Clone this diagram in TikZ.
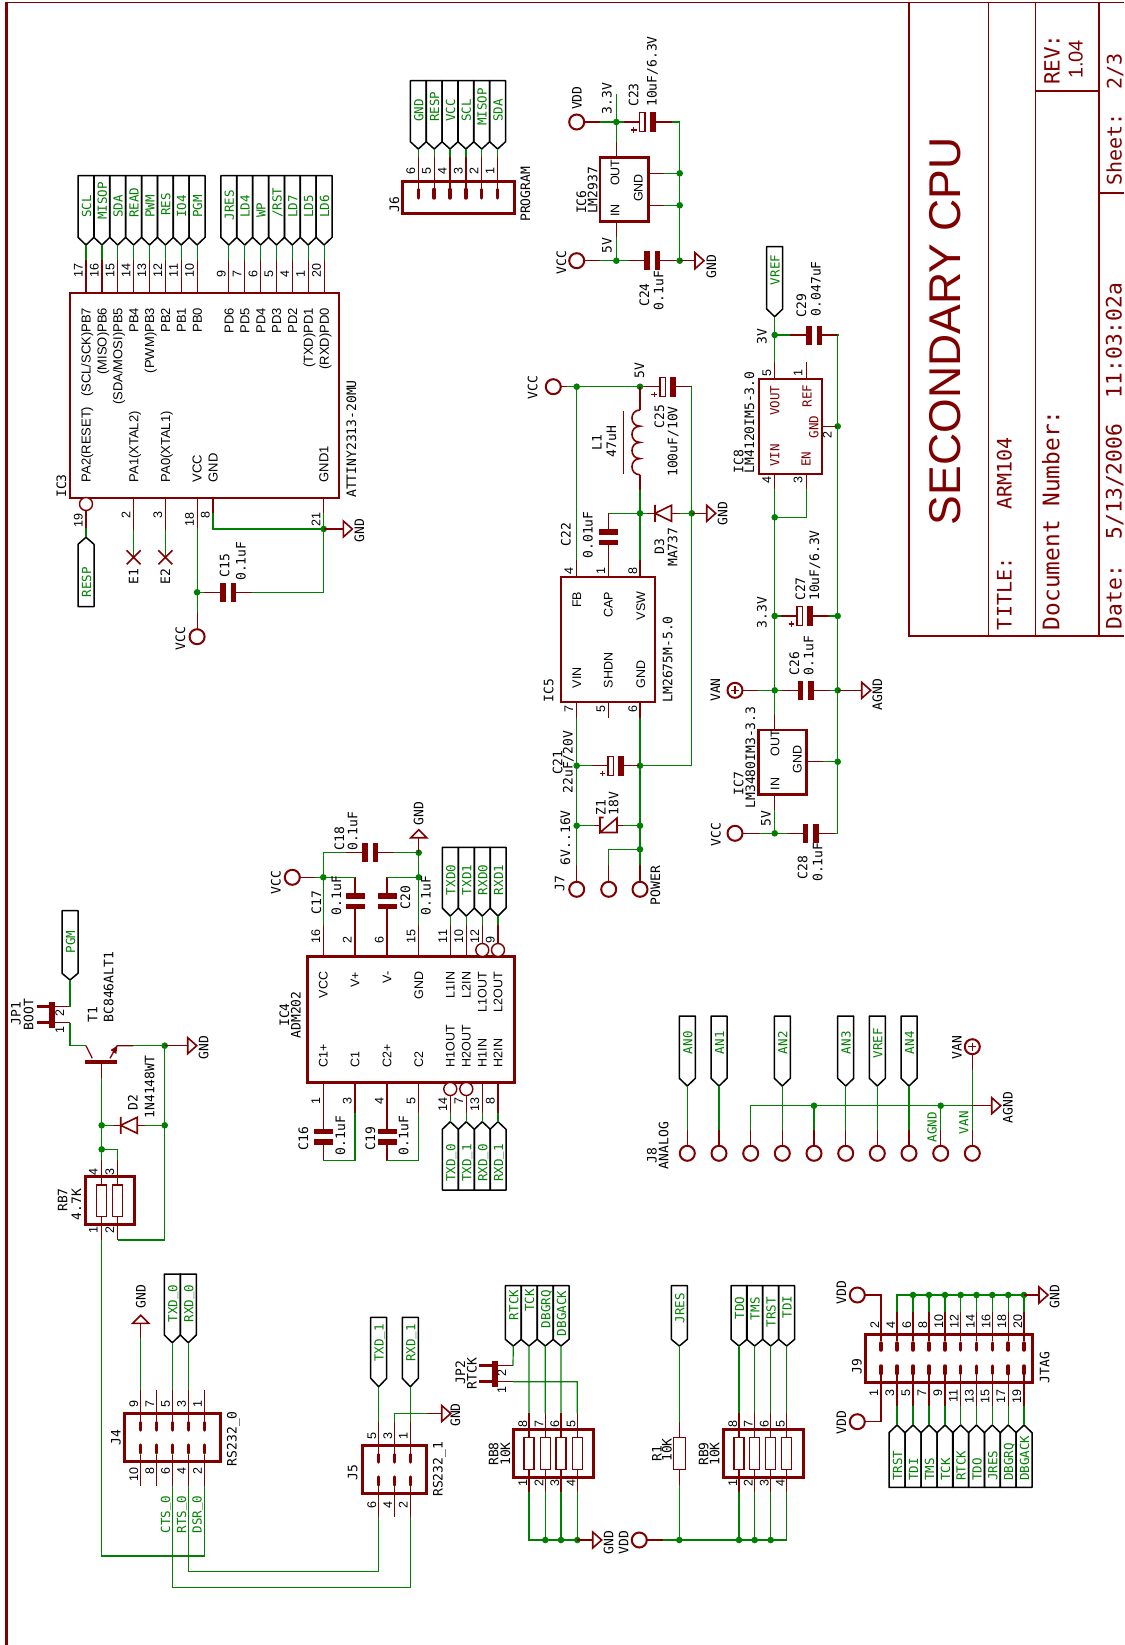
\documentclass[tikz,border=0pt]{standalone}
\usepackage{fontspec}
\setmainfont{Liberation Sans}
\newfontfamily\vfont{DejaVu Sans Mono}
\definecolor{wg}{RGB}{0,128,0}
\definecolor{dr}{RGB}{128,0,0}
\newcount\tno
\newcommand\us{\raisebox{1.9pt}{\_}}
\tikzset{
 lb/.style={rotate=90,anchor=base west,inner sep=0pt,outer sep=0pt,text=black,font=\vfont\fontsize{13}{13}\selectfont},
 lbe/.style={lb,anchor=base east},
 nm/.style={rotate=90,anchor=base west,inner sep=0pt,outer sep=0pt,text=black,font=\fontsize{12.5}{13}\selectfont},
 nme/.style={nm,anchor=base east},
 nmb/.style={nm,font=\fontsize{13}{13}\selectfont},
 nmbe/.style={nmb,anchor=base east},
 fl/.style={lb,text=wg,font=\vfont\fontsize{12.5}{13}\selectfont},
 rdt/.style={lb,text=dr,font=\vfont\fontsize{12.5}{13}\selectfont},
 tbig/.style={nm,text=dr,font=\fontsize{44.5}{45}\selectfont},
 tmid/.style={nm,text=dr,font=\fontsize{20}{20}\selectfont},
 tv/.style={lb,text=dr,font=\vfont\fontsize{20}{20}\selectfont},
 tr/.style={lb,text=dr,font=\vfont\fontsize{21}{21}\selectfont},
 tw/.style={lb,text=dr,font=\vfont\fontsize{21.3}{22}\selectfont},
 td/.style={lb,text=dr,font=\vfont\fontsize{22.8}{23}\selectfont},
 wire/.style={draw=wg,line width=1.2pt},
 pinl/.style={draw=dr,line width=1.2pt},
 sym/.style={draw=dr,line width=1.6pt},
 bx/.style={draw=dr,line width=2pt},
 bxk/.style={draw=dr,line width=3pt},
 rbody/.style={draw=dr,line width=1.5pt},
 padl/.style={draw=dr,line width=3.5pt,line cap=round},
 flg/.style={draw=black,line width=1.5pt,line join=round},
 padn/.style={circle,draw=dr,line width=2pt,minimum size=15pt,inner sep=0pt,outer sep=0pt},
 invn/.style={circle,draw=dr,line width=1.4pt,fill=white,minimum size=13pt,inner sep=0pt,outer sep=0pt},
 frm/.style={draw=dr,line width=1.5pt}
}
\newcommand\tx[4][lb]{\global\advance\tno by 1\relax\node[#1] (t\the\tno) at (#2,#3) {#4};}
\newcommand\Jn[3]{\coordinate (#1) at (#2,#3);\fill[wg] (#1) circle[radius=3.3pt];}
\newcommand\Pn[5]{\coordinate (#1-o) at (#2,#3);\coordinate (#1-i) at (#4,#5);\draw[pinl] (#1-o)--(#1-i);}
\newcommand\Fg[7]{\coordinate (#1) at (#2,#5);\draw[flg] (#2-8,#3)--(#2+8,#3)--(#2+8,#4)--(#1)--(#2-8,#4)--cycle;\tx[fl]{#2+5}{#7}{#6}}
\newcommand\Ch[3]{\coordinate (#1-a) at (#2-24,#3);\coordinate (#1-b) at (#2+24,#3);\fill[dr] (#2-8,#3-9.5) rectangle (#2-2.5,#3+9.5);\fill[dr] (#2+2.5,#3-9.5) rectangle (#2+8,#3+9.5);\draw[pinl] (#1-a)--(#2-8,#3) (#2+8,#3)--(#1-b);}
\newcommand\Cp[3]{\coordinate (#1-a) at (#2-24,#3);\coordinate (#1-b) at (#2+24,#3);\draw[draw=dr,line width=1.4pt] (#2-8,#3-9.5) rectangle (#2-2.5,#3+9.5);\fill[dr] (#2+2,#3-10) rectangle (#2+8,#3+10);\draw[pinl] (#1-a)--(#2-8,#3) (#2+8,#3)--(#1-b);\draw[draw=dr,line width=1.2pt] (#2-16.5,#3+8)--(#2-11,#3+8) (#2-13.7,#3+5.3)--(#2-13.7,#3+10.7);}
\newcommand\Cv[3]{\coordinate (#1-a) at (#2,#3-24);\coordinate (#1-b) at (#2,#3+24);\fill[dr] (#2-9.5,#3-8) rectangle (#2+9.5,#3-2.5);\fill[dr] (#2-9.5,#3+2.5) rectangle (#2+9.5,#3+8);\draw[pinl] (#1-a)--(#2,#3-8) (#2,#3+8)--(#1-b);}
\newcommand\Gr[3]{\coordinate (#1) at (#2,#3);\draw[sym,line join=miter] (#2,#3-8)--(#2+9,#3)--(#2,#3+8)--cycle;}
\newcommand\Gu[3]{\coordinate (#1) at (#2,#3);\draw[sym] (#2-8,#3)--(#2,#3-8)--(#2+8,#3)--cycle;}
\newcommand\Dd[3]{\coordinate (#1-a) at (#2-8,#3);\coordinate (#1-b) at (#2+24.5,#3);\draw[sym] (#2,#3-8.5)--(#2,#3+8.5) (#2,#3)--(#2+16.5,#3-8)--(#2+16.5,#3+8)--cycle;\draw[pinl] (#1-a)--(#2,#3) (#2+16.5,#3)--(#1-b);}
\newcommand\Hd[5]{\coordinate (#1-a) at (#3+15,#4);\coordinate (#1-b) at (#3+15,#5);\fill[dr] (#2,#4-4.5) rectangle (#3,#5+5);\draw[draw=dr,line width=3pt] (#2-12.5,#4)--(#2,#4) (#2-12.5,#5)--(#2,#5);\draw[pinl] (#3,#4)--(#1-a) (#3,#5)--(#1-b);}
\begin{document}
\begin{tikzpicture}[x=1pt,y=-1pt]
\fill[white] (0,0) rectangle (1124,1645);
\useasboundingbox (0,0) rectangle (1124,1645);
% ---------- frame and title block
\coordinate (fTL) at (6.3,2.5);\coordinate (fBL) at (6.3,1645);\coordinate (fTR) at (1124,2.5);
\draw[draw=dr,line width=3.2pt] (fBL)--(fTL);
\draw[frm] (fTL)--(fTR);
\coordinate (tb1) at (909,2.5);\coordinate (tb2) at (909,636);\coordinate (tb3) at (1124,636);
\coordinate (tb4) at (988.3,2.5);\coordinate (tb5) at (988.3,636);
\coordinate (tb6) at (1035.7,2.5);\coordinate (tb7) at (1035.7,636);
\coordinate (tb8) at (1099,2.5);\coordinate (tb9) at (1099,636);
\coordinate (tb10) at (1035.7,91);\coordinate (tb11) at (1099,91);
\coordinate (tb12) at (1099,193);\coordinate (tb13) at (1124,193);
\draw[frm] (tb1)--(tb2)--(tb3) (tb4)--(tb5) (tb6)--(tb7) (tb8)--(tb9) (tb10)--(tb11) (tb12)--(tb13);
\tx[tbig]{960}{525}{SECONDARY CPU}
\tx[tv]{1011.7}{630}{TITLE:\ \ \ \ ARM104}
\tx[td]{1059.3}{630}{Document Number:}
\tx[tr]{1059.5}{85}{REV:}
\tx[tmid]{1082.7}{79}{1.04}
\tx[tv]{1121.5}{186}{Sheet:\ \ 2/3}
\tx[tw]{1121.5}{629}{Date:\ \ 5/13/2006\ \ 11:03:02a}
% ---------- IC3
\draw[bx] (70,292.7) rectangle (339,497.7);
\foreach \x/\n/\lab/\st/\pn in {86/17/SCL/218/{(SCL/SCK)PB7},101.9/16/MISOP/220/{(MISO)PB6},117.7/15/SDA/218/{(SDA/MOSI)PB5},133.6/14/READ/218/PB4,149.5/13/PWM/218/{(PWM)PB3},165.4/12/RES/216/PB2,181.2/11/IO4/218/PB1,197.1/10/PGM/218/PB0,228.8/9/JRES/220.5/PD6,244.7/7/LD4/218/PD5,260.6/6/WP/218/PD4,276.5/5/{/RST}/218/PD3,292.3/4/LD7/218/PD2,308.2/1/LD5/218/{(TXD)PD1},324.1/20/LD6/218/{(RXD)PD0}}{
 \Fg{fa\n}{\x}{175.7}{237.3}{245}{\lab}{\st}
 \Pn{pa\n}{\x}{260}{\x}{292.7}
 \draw[wire] (fa\n)--(pa\n-o);
 \tx[nm]{\x-3.3}{277}{\n}
 \tx[nmbe]{\x+4.7}{308}{\pn}
}
\tx[nmb]{90.7}{482.3}{PA2(RESET)}
\tx[nmb]{138.3}{482.3}{PA1(XTAL2)}
\tx[nmb]{170}{482.3}{PA0(XTAL1)}
\tx[nmb]{201.7}{482.3}{VCC}
\tx[nmb]{217.6}{482.3}{GND}
\tx[nmb]{328.4}{482.3}{GND1}
\tx{66}{497.7}{IC3}
\tx{356}{497.7}{ATTINY2313-20MU}
\Pn{p19}{86}{528}{86}{510}
\node[invn] (i19) at (86,504) {};
\Fg{f19}{86}{606.7}{544.3}{537.3}{RESP}{597.3}
\draw[wire] (f19)--(p19-o);
\Pn{p2}{133.6}{530}{133.6}{497.7}
\Pn{p3}{165.4}{530}{165.4}{497.7}
\coordinate (x1) at (133.6,557.3);\coordinate (x2) at (165.4,557.3);
\draw[wire] (x1)--(p2-o) (x2)--(p3-o);
\foreach \c in {x1,x2}{\draw[sym] (\c)+(-7,-7)--+(7,7) (\c)+(-7,7)--+(7,-7);}
\tx{138.3}{584}{E1}\tx{170}{584}{E2}
\Pn{p18}{197.1}{528}{197.1}{497.7}
\Pn{p8}{212.9}{513}{212.9}{497.7}
\Pn{p21}{323.7}{513}{323.7}{497.7}
\Jn{j3v}{197.1}{592.3}\Jn{j3g}{323.7}{529}
\node[padn] (v3) at (197.1,636.7) {};
\draw[wire] (p18-o)--(j3v)--(v3);
\draw[pinl] (v3)--+(0,-25);
\draw[wire] (p8-o)|-(j3g) (p21-o)--(j3g);
\Ch{c15}{228.2}{592.3}
\draw[wire] (j3v)--(c15-a) (c15-b)-|(j3g);
\Gr{g3}{343.3}{529}
\draw[pinl] (j3g)--(g3);
\tx{364}{542}{GND}
\tx{229.3}{577.3}{C15}\tx{245.7}{580.7}{0.1uF}
\tx{185}{650}{VCC}
\foreach \n/\x/\e in {19/82.7/513.5,2/130.3/511.5,3/162.1/511.5,18/193.8/513,8/209.6/511.5,21/320.4/513}{\tx[nme]{\x}{\e}{\n}}
% ---------- J6
\draw[bxk] (402,181.3) rectangle (514,213.3);
\foreach \x/\n/\lab/\st in {418.3/6/GND/122,434.2/5/RESP/122,450/4/VCC/122,465.9/3/SCL/122,481.7/2/MISOP/126,497.6/1/SDA/122}{
 \Fg{fj\n}{\x}{80.7}{141.7}{149}{\lab}{\st}
 \Pn{pj\n}{\x}{157}{\x}{188}
 \draw[wire] (fj\n)--(pj\n-o);
 \draw[padl] (\x,189.5)--(\x,198);
 \tx[nm]{\x-3.3}{175}{\n}
}
\tx{399}{212.7}{J6}
\tx{530}{221.7}{PROGRAM}
% ---------- IC6
\draw[draw=dr,line width=2.5pt] (600,157.3) rectangle (648.3,221.7);
\node[padn] (vdd6) at (576.7,122) {};
\node[padn] (vcc6) at (576.7,260.7) {};
\Jn{j6a}{616.3}{122}\Jn{j6b}{616.3}{260.7}\Jn{j6c}{679.7}{173.3}\Jn{j6d}{679.7}{205.3}\Jn{j6e}{679.7}{260.7}
\coordinate (v33) at (616.3,94);\coordinate (r6t) at (679.7,122);
\Pn{p6o}{616.3}{142}{616.3}{157.3}
\Pn{p6i}{616.3}{237}{616.3}{221.7}
\Pn{p6g1}{664}{173.3}{648.3}{173.3}
\Pn{p6g2}{664}{205.3}{648.3}{205.3}
\Cp{c23}{647.5}{122}
\Ch{c24}{652}{260.7}
\draw[wire] (vdd6)--(j6a)--(c23-a) (v33)--(j6a)--(p6o-o) (c23-b)--(r6t)--(j6c)--(j6d)--(j6e);
\draw[wire] (vcc6)--(j6b)--(c24-a) (p6i-o)--(j6b) (c24-b)--(j6e) (p6g1-o)--(j6c) (p6g2-o)--(j6d);
\draw[pinl] (vdd6)--+(23.3,0) (vcc6)--+(23.3,0);
\Gr{g6}{695}{260.7}
\draw[pinl] (j6e)--(g6);
\tx{611.7}{114.3}{3.3V}\tx{611.7}{253.3}{5V}
\tx{638.3}{106.7}{C23}\tx{656.7}{106.7}{10uF/6.3V}
\tx[nm]{619.3}{186}{OUT}\tx[nm]{642.7}{202}{GND}\tx[nm]{619.3}{216.7}{IN}
\tx{586}{214}{IC6}\tx{597.3}{214}{LM2937}
\tx{566}{274}{VCC}\tx{581.7}{110}{VDD}
\tx{649}{306.7}{C24}\tx{663.3}{310}{0.1uF}
\tx{716}{278}{GND}
% ---------- IC5 and regulator
\draw[bx] (561,576.7) rectangle (655.3,702.3);
\node[padn] (vcc5) at (553.3,386.7) {};
\Jn{j5a}{576.7}{386.7}\Jn{j5b}{640}{386.7}
\Jn{j5c}{640}{513.3}\Jn{j5d}{691.8}{513.3}
\Jn{j5e}{576.7}{765.7}\Jn{j5f}{640}{765.7}
\Jn{j5g}{576.7}{825.7}\Jn{j5h}{640}{825.7}\Jn{j5i}{640}{849.3}
\coordinate (r5t) at (691.8,386.7);\coordinate (r5b) at (691.8,765.7);
\coordinate (c22c) at (608.7,513.3);\coordinate (k5) at (608.7,849.3);
\Cp{c25}{667.8}{386.7}
\draw[wire] (vcc5)--(j5a)--(j5b)--(c25-a) (c25-b)--(r5t)--(j5d)--(r5b)--(j5f)--(j5c|-r5b);
\draw[pinl] (vcc5)--+(14,0);
% coil
\coordinate (l1t) at (640,410);\coordinate (l1b) at (640,474.8);\coordinate (l1g) at (640,490);
\draw[draw=dr,line width=1.6pt] (l1t) .. controls (629.3,410) and (629.3,426.2) .. (640,426.2) .. controls (629.3,426.2) and (629.3,442.4) .. (640,442.4) .. controls (629.3,442.4) and (629.3,458.6) .. (640,458.6) .. controls (629.3,458.6) and (629.3,474.8) .. (l1b);
\draw[pinl] (j5b)--(l1t) (l1b)--(l1g);
\draw[draw=dr,line width=1.6pt] (623.3,410.7)--(623.3,474);
\Pn{i54}{576.7}{560}{576.7}{576.7}
\Pn{i51}{608.7}{561}{608.7}{576.7}
\Pn{i58}{640}{560}{640}{576.7}
\Pn{i57}{576.7}{718.3}{576.7}{702.3}
\Pn{i55}{608.7}{718.3}{608.7}{702.3}
\Pn{i56}{640}{718.3}{640}{702.3}
\draw[wire] (j5a)--(i54-o) (l1g)--(j5c)--(i58-o) (j5c)--(c22c);
\Cv{c22}{608.7}{537}
\Dd{d3}{655}{513.3}
\draw[wire] (j5c)--(d3-a) (d3-b)--(j5d);
\Gr{g5}{706.7}{513.3}
\draw[pinl] (j5d)--(g5);
\Cp{c21}{616}{765.7}
\draw[wire] (i57-o)--(j5e)--(j5g) (i56-o)--(j5f)--(j5h)--(j5i) (j5e)--(c21-a) (c21-b)--(j5f);
\node[padn] (pj1) at (576.7,889.3) {};\node[padn] (pj2) at (608.7,889.3) {};\node[padn] (pj3) at (640,889.3) {};
\coordinate (pj1r) at (576.7,865);\coordinate (pj2r) at (608.7,865);\coordinate (pj3r) at (640,865);
\draw[pinl] (pj1r)--(pj1) (pj2r)--(pj2) (pj3r)--(pj3);
\draw[wire] (j5g)--(pj1r) (j5i)--(pj3r) (j5i)--(k5)--(pj2r);
% zener
\coordinate (z1a) at (600,825.7);\coordinate (z1b) at (617,825.7);\coordinate (z1c) at (623,825.7);\coordinate (z1d) at (594,825.7);
\draw[wire] (j5g)--(z1d) (z1c)--(j5h);
\draw[sym,line join=miter] (603.5,817.5)--(600,817.5)--(600,832.5)--(617,818)--(617,832.5)--(600,832.5);
\draw[pinl] (z1d)--(z1a) (z1b)--(z1c);
\tx{644}{378}{5V}\tx{601.7}{450}{L1}\tx{616}{457.3}{47uH}
\tx{664}{428.3}{C25}\tx{677.3}{476.7}{100uF/10V}
\tx{664}{554}{D3}\tx{677.3}{566.7}{MA737}
\tx{570.7}{546}{C22}\tx{592.7}{558.3}{0.01uF}
\tx{537.3}{399}{VCC}\tx{727.3}{525}{GND}
\tx[nm]{573}{574.5}{4}\tx[nm]{605}{574.5}{1}\tx[nm]{637}{574.5}{8}
\tx[nm]{573}{712.3}{7}\tx[nm]{605}{712.3}{5}\tx[nm]{637}{712.3}{6}
\tx[nme]{581}{591.7}{FB}\tx[nme]{612.7}{591.7}{CAP}\tx[nme]{645}{591.7}{VSW}
\tx[nm]{581}{688.3}{VIN}\tx[nm]{612.7}{688.3}{SHDN}\tx[nm]{645}{688.3}{GND}
\tx{672.3}{702.3}{LM2675M-5.0}\tx{553.3}{702.3}{IC5}
\tx{562.3}{774.3}{C21}\tx{572.7}{793.3}{22uF/20V}
\tx{570}{865}{6V..16V}\tx{605.7}{815}{Z1}\tx{618.3}{815}{18V}
\tx{564.3}{891.7}{J7}\tx{660}{905}{POWER}
% ---------- IC7 / IC8
\draw[draw=dr,line width=2.5pt] (758.3,730) rectangle (806.7,794.3);
\draw[bx] (759,379) rectangle (822.3,474.3);
\Fg{fvr}{774.7}{246.7}{309}{316.7}{VREF}{285}
\Jn{j7a}{774.7}{335}\Jn{j7b}{774.7}{517.3}\Jn{j7c}{774.7}{616}\Jn{j7d}{774.7}{690.3}\Jn{j7e}{774.7}{833.3}
\Jn{j7f}{837.7}{426.3}\Jn{j7g}{837.7}{616}\Jn{j7h}{837.7}{690.3}\Jn{j7i}{837.7}{761.7}
\coordinate (r7t) at (837.7,335);\coordinate (r7b) at (837.7,833.3);\coordinate (k7) at (806.7,517.3);
\Pn{p85}{774.7}{362.3}{774.7}{379}
\Pn{p81}{806.7}{362.3}{806.7}{379}
\Pn{p84}{774.7}{489.3}{774.7}{474.3}
\Pn{p83}{806.7}{489.3}{806.7}{474.3}
\Pn{p82}{837.7}{426.3}{822.3}{426.3}
\Pn{p7o}{774.7}{714.3}{774.7}{730}
\Pn{p7i}{774.7}{810}{774.7}{794.3}
\Pn{p7g}{822.7}{761.7}{806.7}{761.7}
\Ch{c29}{814}{335}
\Cp{c27}{805}{616}
\Ch{c26}{805.8}{690.3}
\Ch{c28}{810.5}{833.3}
\node[padn] (van7) at (735,690.3) {};
\node[padn] (vcc7) at (735,833.3) {};
\draw[draw=dr,line width=1.4pt] (731,690.3)--(739,690.3) (735,686.3)--(735,694.3);
\draw[wire] (fvr)--(j7a)--(p85-o) (p84-o)--(j7b)--(j7c)--(j7d)--(p7o-o) (j7b)--(k7)--(p83-o) (p7i-o)--(j7e);
\draw[wire] (j7a)--(c29-a) (c29-b)--(r7t)--(j7f)--(j7g)--(j7h)--(j7i)--(r7b)--(c28-b) (j7c)--(c27-a) (c27-b)--(j7g) (j7d)--(c26-a) (c26-b)--(j7h) (p7g-o)--(j7i) (j7e)--(c28-a);
\draw[wire] (van7)--(j7d) (vcc7)--(j7e);
\draw[pinl] (van7)--+(23.3,0) (vcc7)--+(25,0);
\Gr{g7}{861.7}{690.3}
\draw[pinl] (j7h)--(g7);
\tx{766.7}{628.3}{3.3V}\tx{805}{600.7}{C27}\tx{819}{600.7}{10uF/6.3V}
\tx{799}{675}{C26}\tx{813.3}{675}{0.1uF}
\tx{720}{701.7}{VAN}\tx{882}{710}{AGND}
\tx{755}{808.3}{LM3480IM3-3.3}\tx{743.3}{795}{IC7}
\tx{770.7}{826}{5V}\tx[nm]{779.3}{756}{OUT}\tx[nm]{801.7}{773.3}{GND}\tx[nm]{779.3}{790}{IN}
\tx{720.7}{846}{VCC}\tx{807.3}{879}{C28}\tx{822.3}{881.7}{0.1uF}
\tx[rdt]{779.3}{415.7}{VOUT}\tx[rdt]{811.7}{407.3}{REF}\tx[rdt]{818.3}{438.3}{GND}\tx[rdt]{779.3}{466.7}{VIN}\tx[rdt]{810.7}{466.7}{EN}
\tx[nm]{771}{376.7}{5}\tx[nm]{802.3}{376.7}{1}\tx[nm]{771}{483.3}{4}\tx[nm]{802.3}{483.3}{3}\tx[nm]{831.7}{438}{2}
\tx{766.7}{344}{3V}\tx{806}{317.3}{C29}\tx{820.7}{316}{0.047uF}
\tx{743.3}{473.3}{IC8}\tx{754}{473.3}{LM4120IM5-3.0}
% ---------- IC4
\draw[bxk] (307.3,956) rectangle (514,1082.7);
\foreach \x/\n/\pn in {323.3/16/VCC,355/2/V+,387/6/V-,418.7/15/GND,450.3/11/L1IN,466.3/10/L2IN,482.3/12/L1OUT,498/9/L2OUT}{
 \Pn{a\n}{\x}{925}{\x}{956}
 \tx[nm]{\x-3.3}{943}{\n}
 \tx[nme]{\x+4.3}{971.7}{\pn}
}
\foreach \x/\n/\pn in {323.3/1/C1+,355/3/C1,387/4/C2+,418.7/5/C2,450.3/14/H1OUT,466.3/7/H2OUT,482.3/13/H1IN,498/8/H2IN}{
 \Pn{b\n}{\x}{1113.3}{\x}{1082.7}
 \tx[nme]{\x-3.3}{1097.5}{\n}
 \tx[nm]{\x+4.3}{1067.3}{\pn}
}
\node[invn] (i12) at (482.3,950) {};\node[invn] (i9) at (498,950) {};
\node[invn] (i14) at (450.3,1089) {};\node[invn] (i7) at (466.3,1089) {};
\foreach \x/\n/\lab in {450.3/11/TXD0,466.3/10/TXD1,482.3/12/RXD0,498/9/RXD1}{
 \Fg{ft\n}{\x}{847.3}{908}{916}{\lab}{895}
 \draw[wire] (ft\n)--(a\n-o);
}
\foreach \x/\n/\lab in {450.3/14/TXD\us 0,466.3/7/TXD\us 1,482.3/13/RXD\us 0,498/8/RXD\us 1}{
 \Fg{fb\n}{\x}{1190}{1129.3}{1121.7}{\lab}{1181.7}
 \draw[wire] (fb\n)--(b\n-o);
}
\node[padn] (vcc4) at (292.3,877.3) {};
\Jn{j4v}{323.3}{877.3}\Jn{j4g}{418.7}{877.3}\Jn{j4t}{418.7}{852.7}
\coordinate (c4a) at (323.3,852.7);
\Ch{c18}{370.2}{852.7}
\Cv{c17}{355}{901.3}\Cv{c20}{387}{901.3}
\Cv{c16}{323.3}{1136.8}\Cv{c19}{387}{1136.8}
\draw[pinl] (b1-o)--(c16-a) (b4-o)--(c19-a);
\draw[wire] (vcc4)--(j4v)--(c17-a) (c4a)--(a16-o) (c4a)--(c18-a) (c18-b)--(j4t)--(j4g)--(a15-o) (c20-a)--(j4g);
\draw[pinl] (vcc4)--+(22.7,0);
\draw[wire] (c16-b)-|(b3-o) (c19-b)-|(b5-o);
\Gu{g4}{418.7}{837.7}
\draw[pinl] (g4)--(j4t);
\tx{344}{850}{C18}\tx{357.3}{850.7}{0.1uF}\tx{423.3}{825}{GND}\tx{280.7}{894}{VCC}
\tx{321}{914}{C17}\tx{341}{915}{0.1uF}\tx{410}{909}{C20}\tx{430.7}{915}{0.1uF}
\tx{308}{1150}{C16}\tx{345}{1155}{0.1uF}\tx{375}{1150}{C19}\tx{408.3}{1155}{0.1uF}
\tx{289}{1026.7}{IC4}\tx{300.7}{1038.3}{ADM202}
% ---------- T1, JP1, RB7
\Fg{fpgm}{70}{910.7}{973.3}{980}{PGM}{953.3}
\Hd{jp1}{49.3}{55}{1006.7}{1022.7}
\coordinate (t1k) at (70,1045.7);\coordinate (t1c) at (86,1045.7);\coordinate (t1e) at (117,1045.7);\coordinate (t1r) at (133.3,1045.7);
\draw[wire] (fpgm)--(jp1-a) (jp1-b)--(t1k)--(t1c);
\draw[draw=dr,line width=4pt] (85,1061.7)--(117.3,1061.7);
\draw[draw=dr,line width=1.3pt] (t1c)--(92.3,1058.3) (110,1058.3)--(t1e) (t1e)--(t1r);
\fill[dr] (117.5,1045.7)--(110.5,1050)--(116.3,1054)--cycle;
\Jn{j1a}{164.7}{1045.7}\Jn{j1b}{101.7}{1125.3}\Jn{j1c}{164.7}{1125.3}\Jn{j1d}{101.7}{1149.3}
\coordinate (k1a) at (117.5,1149.3);\coordinate (k1b) at (164.7,1240);
\Pn{t1b}{101.7}{1078.3}{101.7}{1061.7}
\Pn{r74}{101.7}{1160}{101.7}{1185}
\Pn{r73}{117.5}{1160}{117.5}{1185}
\Pn{r71}{101.7}{1240}{101.7}{1216.7}
\Pn{r72}{117.5}{1240}{117.5}{1216.7}
\draw[bxk] (85,1176.7) rectangle (134,1224.3);
\draw[rbody] (96.5,1185) rectangle (106.5,1216.7) (112.5,1185) rectangle (122.5,1216.7);
\Dd{d2}{120.7}{1125.3}
\Gr{g1}{187.7}{1045.7}
\draw[wire] (t1r)--(j1a)--(j1c)--(k1b)-|(r72-o) (t1b-o)--(j1b)--(j1d)--(r74-o) (j1d)--(k1a)--(r73-o) (j1b)--(d2-a) (d2-b)--(j1c);
\draw[pinl] (j1a)--(g1);
\tx[nm]{97.5}{1175}{4}\tx[nm]{114}{1175}{3}\tx[nm]{97.5}{1233.3}{1}\tx[nm]{114}{1233.3}{2}
\tx[nm]{64}{1016.7}{2}\tx[nm]{64}{1033.3}{1}
\tx{20.7}{1025}{JP1}\tx{33.3}{1030}{BOOT}\tx{97.3}{1022.3}{T1}\tx{113.3}{1022.3}{BC846ALT1}
\tx{137.7}{1110}{D2}\tx{154.3}{1118.3}{1N4148WT}\tx{208.3}{1059}{GND}\tx{67.3}{1211.7}{RB7}\tx{81}{1220}{4.7K}
% ---------- J4
\draw[bxk] (124,1413.3) rectangle (220,1461.7);
\foreach \x/\t/\b in {140.7/9/10,156.6/7/8,172.3/5/6,188.3/3/4,204.3/1/2}{
 \Pn{jt\t}{\x}{1390}{\x}{1421}
 \Pn{jb\b}{\x}{1485.7}{\x}{1455}
 \draw[padl] (\x,1422.5)--(\x,1430) (\x,1445)--(\x,1453);
 \tx[nm]{\x-2.5}{1407.3}{\t}
 \tx[nme]{\x-2.5}{1468}{\b}
}
\Gu{g40}{140.7}{1323.3}
\coordinate (g40l) at (140.7,1338.3);
\draw[wire] (g40l)--(jt9-o);
\draw[pinl] (g40)--(g40l);
\Fg{ftx0}{172.3}{1274}{1335}{1342.7}{TXD\us 0}{1322.3}
\Fg{frx0}{188.3}{1274}{1335}{1342.7}{RXD\us 0}{1322.3}
\draw[wire] (ftx0)--(jt5-o) (frx0)--(jt3-o);
\tx{145.7}{1308.3}{GND}
\tx[fl]{170}{1533.3}{CTS\us 0}\tx[fl]{186}{1533.3}{RTS\us 0}\tx[fl]{201.7}{1533.3}{DSR\us 0}
\tx{120.7}{1445}{J4}\tx{236.7}{1466}{RS232\_0}
% ---------- J5
\draw[bxk] (362.3,1445) rectangle (426.7,1493.3);
\foreach \x/\t/\b in {378.7/5/6,394.7/3/4,410.3/1/2}{
 \Pn{kt\t}{\x}{1421.7}{\x}{1453}
 \Pn{kb\b}{\x}{1516.7}{\x}{1486}
 \draw[padl] (\x,1454.5)--(\x,1462) (\x,1477)--(\x,1485);
 \tx[nm]{\x-2.7}{1439}{\t}
 \tx[nm]{\x-2.7}{1508.3}{\b}
}
\Fg{ftx1}{378.7}{1317.3}{1378.3}{1386.7}{TXD\us 1}{1361.7}
\Fg{frx1}{410.3}{1317.3}{1378.3}{1386.7}{RXD\us 1}{1361.7}
\Gr{g5b}{441.7}{1413.5}
\coordinate (k5a) at (394.7,1413.5);\coordinate (k5b) at (426.7,1413.5);
\draw[wire] (ftx1)--(kt5-o) (frx1)--(kt1-o) (kt3-o)--(k5a)--(k5b);
\draw[pinl] (k5b)--(g5b);
\tx{460}{1426.7}{GND}\tx{357.3}{1480}{J5}\tx{442.7}{1496.7}{RS232\_1}
% long wires J4-J5-RB7
\coordinate (w1) at (204.3,1556);\coordinate (w2) at (101.7,1556);
\coordinate (w3) at (188.3,1571.7);\coordinate (w4) at (172.3,1587.7);
\draw[wire] (jb2-o)--(w1)--(w2)--(r71-o) (jb4-o)--(w3)-|(kb6-o) (jb6-o)--(w4)-|(kb2-o);
% ---------- RB8, RB9, R1, JP2
\draw[bxk] (513.3,1429) rectangle (593.3,1477.3);
\draw[bxk] (723.3,1429) rectangle (803,1477.3);
\foreach \x/\n/\m/\lab/\st in {513.3/a/0/RTCK/1320,529/b/8/TCK/1311.7,545.3/c/7/DBGRQ/1328,561/d/6/DBGACK/1336,739/e/8/TDO/1319.3,754.7/f/7/TMS/1320,770.7/g/6/TRST/1327.3,786.7/h/5/TDI/1318.3,679.3/r/0/JRES/1323.3}{
 \Fg{fr\n}{\x}{1285.7}{1339.3}{1346}{\lab}{\st}
}
\foreach \x/\t/\b/\n in {529/8/1/a,545.3/7/2/b,561/6/3/c,577.3/5/4/d,739/8/1/e,754.7/7/2/f,770.7/6/3/g,786.7/5/4/h}{
 \draw[rbody] (\x-5,1437.7) rectangle (\x+5,1469.3);
 \Pn{rt\n}{\x}{1413.3}{\x}{1437.7}
 \Pn{rb\n}{\x}{1492.3}{\x}{1469.3}
 \tx[nm]{\x-2}{1427.7}{\t}
 \tx[nm]{\x-2}{1486.7}{\b}
}
\Hd{jp2}{491.7}{498}{1365.7}{1381.7}
\coordinate (k2a) at (577.3,1381.7);
\draw[wire] (fra)--(jp2-a) (frb)--(rta-o) (frc)--(rtb-o) (frd)--(rtc-o) (jp2-b)--(k2a)--(rtd-o);
\tx[nm]{506}{1376.7}{2}\tx[nm]{506}{1393.3}{1}
\Jn{jra}{545.3}{1540}\Jn{jrb}{561}{1540}\Jn{jrc}{577.3}{1540}
\coordinate (krg) at (529,1540);
\draw[wire] (rba-o)--(krg)--(jra)--(jrb)--(jrc) (rbb-o)--(jra) (rbc-o)--(jrb) (rbd-o)--(jrc);
\Gr{g8}{592.7}{1540}
\draw[pinl] (jrc)--(g8);
\node[padn] (vdd8) at (639.3,1540) {};
\Jn{jrd}{679.3}{1540}\Jn{jre}{739}{1540}\Jn{jrf}{754.7}{1540}\Jn{jrg}{770.7}{1540}
\coordinate (krh) at (786.7,1540);
\draw[wire] (vdd8)--(jrd)--(jre)--(jrf)--(jrg)--(krh)--(rbh-o) (rbe-o)--(jre) (rbf-o)--(jrf) (rbg-o)--(jrg);
\draw[pinl] (vdd8)--+(24,0);
\draw[wire] (fre)--(rte-o) (frf)--(rtf-o) (frg)--(rtg-o) (frh)--(rth-o);
\draw[rbody] (673.3,1437.7) rectangle (685.7,1469.3);
\Pn{r1t}{679.3}{1421.7}{679.3}{1437.7}
\Pn{r1b}{679.3}{1485}{679.3}{1469.3}
\draw[wire] (frr)--(r1t-o) (r1b-o)--(jrd);
\tx{613.3}{1554}{GND}\tx{628.3}{1554}{VDD}
\tx{661.7}{1461.7}{R1}\tx{671.7}{1461.7}{10K}
\tx{498.3}{1465.7}{RB8}\tx{510}{1465.7}{10K}\tx{708.3}{1465.7}{RB9}\tx{719.3}{1465.7}{10K}
\tx{465}{1384}{JP2}\tx{476.7}{1389}{RTCK}
% ---------- J9
\draw[bxk] (865,1334) rectangle (1032.3,1382.3);
\foreach \x/\t/\b/\lab in {881/2/1/,897/4/3/TRST,913/6/5/TDI,929/8/7/TMS,945/10/9/TCK,960.7/12/11/RTCK,976.5/14/13/TDO,992.3/16/15/JRES,1008.2/18/17/DBGRQ,1024/20/19/DBGACK}{
 \Pn{qt\t}{\x}{1311.7}{\x}{1341}
 \Pn{qb\b}{\x}{1405.7}{\x}{1375}
 \draw[padl] (\x,1343)--(\x,1350) (\x,1366)--(\x,1373.5);
 \tx[nm]{\x-2}{1328.3}{\t}
 \tx[nme]{\x-3}{1390}{\b}
}
\foreach \x/\b/\lab in {897/3/TRST,913/5/TDI,929/7/TMS,945/9/TCK,960.7/11/RTCK,976.5/13/TDO,992.3/15/JRES,1008.2/17/DBGRQ,1024/19/DBGACK}{
 \Fg{fq\b}{\x}{1487.3}{1432.7}{1425}{\lab}{1480.7}
 \draw[wire] (fq\b)--(qb\b-o);
}
\node[padn] (vq1) at (857.3,1295) {};\node[padn] (vq2) at (857.3,1421.7) {};
\coordinate (kq1) at (881,1295);\coordinate (kq2) at (881,1421.7);
\draw[pinl] (vq1)--(kq1)--(qt2-o) (vq2)--(kq2)--(qb1-o);
\coordinate (kq3) at (897,1295);
\Jn{jq6}{913}{1295}\Jn{jq8}{929}{1295}\Jn{jq10}{945}{1295}\Jn{jq12}{960.7}{1295}\Jn{jq14}{976.5}{1295}\Jn{jq16}{992.3}{1295}\Jn{jq18}{1008.2}{1295}\Jn{jq20}{1024}{1295}
\draw[wire] (qt4-o)--(kq3)--(jq20);
\foreach \n in {6,8,10,12,14,16,18,20}{\draw[wire] (qt\n-o)--(jq\n);}
\Gr{g9}{1039}{1295}
\draw[pinl] (jq20)--(g9);
\tx{846}{1304}{VDD}\tx{846}{1434}{VDD}\tx{1059.3}{1308.3}{GND}
\tx{861.7}{1374}{J9}\tx{1049.3}{1383.3}{JTAG}
% ---------- J8
\foreach \x/\n in {687.3/0,719/1,750.7/2,782.3/3,814/4,845.7/5,877.3/6,909/7,940.7/8,972.3/9}{
 \node[padn] (ja\n) at (\x,1153.3) {};
 \coordinate (jr\n) at (\x,1130);
 \draw[pinl] (jr\n)--(ja\n);
}
\foreach \x/\n/\lab/\st in {687.3/0/AN0/1054,719/1/AN1/1054,782.3/3/AN2/1054,845.7/5/AN3/1054,877.3/6/VREF/1058.3,909/7/AN4/1054}{
 \Fg{fn\n}{\x}{1016}{1078.3}{1086}{\lab}{\st}
 \draw[wire] (fn\n)--(jr\n);
}
\Jn{jn4}{814}{1105.7}\Jn{jn8}{940.7}{1105.7}
\coordinate (kn2) at (750.7,1105.7);\coordinate (kn9) at (972.3,1105.7);
\node[padn] (vn) at (972.3,1046.7) {};
\draw[draw=dr,line width=1.4pt] (968.3,1046.7)--(976.3,1046.7) (972.3,1042.7)--(972.3,1050.7);
\coordinate (kv) at (972.3,1070);
\draw[pinl] (vn)--(kv);
\draw[wire] (jr2)--(kn2)--(jn4)--(jn8)--(kn9) (jn4)--(jr4) (jn8)--(jr8) (kv)--(jr9);
\Gr{g8b}{991.7}{1105.7}
\draw[pinl] (kn9)--(g8b);
\tx[fl]{936.7}{1142.3}{AGND}\tx[fl]{968.3}{1134}{VAN}
\tx{961.7}{1059}{VAN}\tx{1012.7}{1123.3}{AGND}\tx{656.7}{1163.3}{J8}\tx{668.3}{1169}{ANALOG}
\end{tikzpicture}
\end{document}
